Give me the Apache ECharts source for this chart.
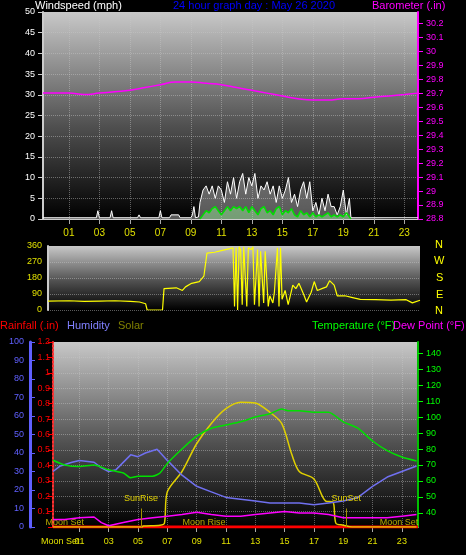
<!DOCTYPE html>
<html>
<head>
<meta charset="utf-8">
<script src="https://cdn.jsdelivr.net/npm/echarts@6/dist/echarts.min.js"></script>
<style>
  html, body { margin: 0; padding: 0; background: #000; }
  #chart { width: 466px; height: 555px; }
</style>
</head>
<body>
<div id="chart"></div>
<script>
// hour ticks shown under the top and bottom panels
const hourTicks = [1, 3, 5, 7, 9, 11, 13, 15, 17, 19, 21, 23];
const tempTicks = [40, 50, 60, 70, 80, 90, 100, 110, 120, 130, 140];

// [hour, value]
const windGust = [
  [-0.7, 0.3], [2.8, 0.3], [2.9, 2], [3.0, 0.3], [3.7, 0.3], [3.8, 2], [3.9, 0.3], [5.5, 0.3], [5.6, 1], [5.7, 0.3],
  [6.9, 0.3], [7.0, 2], [7.1, 0.3], [7.6, 0.3], [7.7, 1], [8.2, 1], [8.3, 0.3], [9.0, 0.3], [9.1, 1], [9.2, 3], [9.3, 0.3],
  [9.5, 0.5], [9.6, 4], [9.8, 7], [10.0, 8], [10.2, 6], [10.4, 8], [10.6, 5], [10.8, 8], [11.0, 7], [11.2, 4],
  [11.4, 9], [11.6, 6], [11.8, 10], [12.0, 5], [12.2, 9], [12.4, 11], [12.6, 6], [12.8, 10], [13.0, 8], [13.2, 11],
  [13.4, 5], [13.6, 8], [13.8, 7], [14.0, 9], [14.2, 6], [14.4, 8], [14.6, 4], [14.8, 8], [15.0, 5], [15.2, 7],
  [15.4, 10], [15.6, 4], [15.8, 6], [16.0, 3], [16.2, 7], [16.4, 9], [16.6, 5], [16.8, 9], [17.0, 2], [17.2, 4],
  [17.4, 1], [17.6, 5], [17.8, 2], [18.0, 6], [18.2, 3], [18.4, 3], [18.6, 1], [18.8, 3], [19.0, 7], [19.2, 1],
  [19.4, 5], [19.5, 0.3], [23.9, 0.3]
];
const windAvg = [
  [9.6, 0], [9.8, 1], [10.0, 2], [10.2, 1.5], [10.4, 2.5], [10.6, 3], [10.8, 2], [11.0, 1], [11.2, 2], [11.4, 3],
  [11.6, 2], [11.8, 3], [12.0, 2.5], [12.2, 3], [12.4, 2], [12.6, 3], [12.8, 1.5], [13.0, 3], [13.2, 2], [13.4, 1],
  [13.6, 2.5], [13.8, 3], [14.0, 1.5], [14.2, 2], [14.4, 1], [14.6, 2.5], [14.8, 3], [15.0, 1], [15.2, 2], [15.4, 1.5],
  [15.6, 2.5], [15.8, 1], [16.0, 0.5], [16.2, 2], [16.4, 1], [16.6, 1.5], [16.8, 0.5], [17.0, 1.5], [17.2, 0.5],
  [17.4, 1], [17.6, 0.5], [17.8, 1], [18.0, 1.5], [18.2, 0.5], [18.4, 1], [18.6, 0.5], [18.8, 1], [19.0, 0.5],
  [19.2, 1.5], [19.4, 0.5], [19.5, 0]
];
const barometer = [
  [-0.7, 29.70], [1, 29.70], [2, 29.69], [3, 29.70], [4, 29.71], [5, 29.72], [6, 29.74], [7, 29.76], [8, 29.78],
  [9, 29.78], [10, 29.77], [11, 29.76], [12, 29.74], [13, 29.72], [14, 29.70], [15, 29.68], [16, 29.66],
  [17, 29.65], [18, 29.65], [19, 29.66], [20, 29.66], [21, 29.67], [22, 29.68], [23, 29.69], [23.9, 29.70]
];
const windDir = [
  [-0.37, 50], [1, 52], [2, 48], [3, 50], [4, 52], [5, 48], [5.6, 45], [6.0, 35], [6.1, 0], [7.1, 0], [7.2, 120],
  [8, 125], [8.4, 110], [8.6, 130], [9, 150], [9.5, 160], [9.8, 190], [10.0, 320], [10.5, 325], [11, 335],
  [11.5, 345], [11.7, 350], [11.8, 20], [11.9, 350], [12.0, 0], [12.1, 355], [12.2, 340], [12.3, 30], [12.4, 355],
  [12.6, 20], [12.7, 350], [12.9, 340], [13.0, 355], [13.1, 30], [13.3, 340], [13.4, 20], [13.5, 330],
  [13.7, 40], [13.8, 330], [14.0, 20], [14.1, 80], [14.3, 40], [14.4, 100], [14.6, 350], [14.7, 20], [14.8, 350],
  [14.9, 60], [15.1, 110], [15.3, 30], [15.6, 140], [15.8, 120], [16.0, 150], [16.3, 90], [16.5, 45], [16.8, 100],
  [17.0, 160], [17.2, 110], [17.5, 120], [17.8, 130], [18.0, 165], [18.3, 140], [18.5, 80], [19, 80],
  [19.5, 70], [20, 60], [21, 58], [22, 55], [23, 58], [23.4, 40], [23.9, 55]
];
const temperature = [
  [-0.8, 73], [0, 70], [1, 69], [2, 70], [3, 67], [4, 65], [4.5, 62], [5, 63], [6, 63], [6.5, 65], [7, 71], [8, 80],
  [9, 88], [10, 93], [11, 95], [12, 97], [13, 100], [14, 102], [14.8, 105], [15.2, 104], [16, 104], [17, 103],
  [18, 103], [19, 97], [20, 93], [21, 85], [22, 79], [23, 75], [24, 72.5]
];
const dewPoint = [
  [-0.8, 36], [0, 36], [1, 37], [2, 37.5], [2.5, 34], [3, 32], [4, 34], [5, 36], [6, 37], [7, 38], [8, 39],
  [9, 40.5], [10, 39], [11, 38], [12, 38], [13, 39], [14, 40], [15, 41], [16, 40], [17, 40], [18, 39],
  [19, 37], [20, 37], [21, 37], [22, 37], [23, 38], [24, 39]
];
const humidity = [
  [-0.8, 30], [-0.3, 33], [0.5, 35], [1, 36], [2, 35], [2.5, 32], [3, 30], [3.5, 31], [4.5, 39], [5, 38],
  [5.5, 40], [6.3, 42], [7, 36], [8, 28], [9, 22], [10, 19], [11, 16], [12, 15], [13, 14], [14, 13], [15, 13],
  [16, 13], [17, 12], [18, 13], [19, 14], [20, 16], [21, 22], [22, 27], [23, 30], [24, 33]
];
const solar = [
  [-0.8, 0], [5.3, 0], [5.35, 5], [6.5, 10], [6.8, 20], [7, 190], [8, 300], [9, 450], [10, 560], [11, 640],
  [12, 675], [13, 670], [14, 620], [14.8, 560], [15.5, 390], [16, 300], [17, 260], [17.8, 140], [18.3, 135],
  [18.5, 20], [19, 10], [19.6, 0], [24, 0]
];
const rainfall = [[-0.8, 0], [24.1, 0]];
const sunRise = 5.2, sunSet = 19.2, moonRise = 9.5;

const font = 'Liberation Sans';
const bg = {
  type: 'linear', x: 0, y: 0, x2: 0, y2: 1,
  colorStops: [{ offset: 0, color: '#c8c8c8' }, { offset: 0.55, color: '#505050' }, { offset: 1, color: '#000000' }]
};
const dotted = { show: true, lineStyle: { color: 'rgba(200,200,200,0.45)', type: 'dotted' } };
const xTop = (gi) => ({
  type: 'value', gridIndex: gi, min: -0.7, max: 23.9,
  axisLine: { onZero: false, lineStyle: { color: '#ccc' } },
  axisTick: { customValues: hourTicks, lineStyle: { color: '#aaa' } },
  axisLabel: { customValues: hourTicks, color: '#e0e000', fontFamily: font, fontSize: 10, margin: 9,
    formatter: v => String(v).padStart(2, '0') },
  splitLine: dotted
});
const title = (text, left, top, fill) => ({ type: 'text', left, top, style: { text, fill, font: '11px ' + font } });

const chart = echarts.init(document.getElementById('chart'));
chart.setOption({
  backgroundColor: '#000',
  animation: false,
  textStyle: { fontFamily: font },
  graphic: [
    title('Windspeed (mph)', 35, 0, '#fff'),
    title('24 hour graph day : May 26 2020', 173, 0, '#0000ff'),
    title('Barometer (.in)', 372, 0, '#ff00ff'),
    title('Rainfall (.in)', 0, 320, '#ff0000'),
    title('Humidity', 67, 320, '#8080ff'),
    title('Solar', 118, 320, '#808000'),
    title('Temperature (°F)', 312, 320, '#00ff00'),
    title('Dew Point (°F)', 393, 320, '#ff00ff'),
    title('N', 435, 239, '#ffff00'),
    title('W', 434, 255, '#ffff00'),
    title('S', 436, 272, '#ffff00'),
    title('E', 436, 289, '#ffff00'),
    title('N', 435, 305, '#ffff00'),
    { type: 'text', left: 41, top: 537, style: { text: 'Moon Set', fill: '#e0e000', font: '9px ' + font } }
  ],
  grid: [
    { left: 43, right: 48, top: 12, height: 207, show: true, borderWidth: 0, backgroundColor: bg },
    { left: 48, right: 46, top: 246, height: 64, show: true, borderWidth: 0, backgroundColor: bg },
    { left: 53, right: 48, top: 342, height: 185, show: true, borderWidth: 0, backgroundColor: bg }
  ],
  xAxis: [
    xTop(0),
    { type: 'value', gridIndex: 1, min: -0.37, max: 23.9, axisLine: { show: false }, axisTick: { show: false },
      axisLabel: { show: false }, splitLine: { show: false } },
    Object.assign(xTop(2), { min: -0.8, max: 24.1, axisLabel: Object.assign(xTop(2).axisLabel, { fontSize: 9, margin: 10 }) })
  ],
  yAxis: [
    { type: 'value', gridIndex: 0, position: 'left', min: 0, max: 50, interval: 5,
      axisLine: { show: true, onZero: false, lineStyle: { color: '#ccc', width: 2 } }, axisTick: { show: true },
      axisLabel: { color: '#fff', fontSize: 9, fontFamily: font }, splitLine: dotted },
    { type: 'value', gridIndex: 0, position: 'right', min: 28.8, max: 30.28, interval: 0.1,
      axisLine: { show: true, onZero: false, lineStyle: { color: '#ff00ff', width: 2 } }, axisTick: { show: true },
      axisLabel: { color: '#ff00ff', fontSize: 9, fontFamily: font, showMaxLabel: false,
        formatter: v => String(+v.toFixed(1)) }, splitLine: { show: false } },
    { type: 'value', gridIndex: 1, position: 'left', min: 0, max: 360, interval: 90,
      axisLine: { show: true, onZero: false, lineStyle: { color: '#ccc', width: 2 } }, axisTick: { show: false },
      axisLabel: { color: '#e0e000', fontSize: 9, fontFamily: font, margin: 6 }, splitLine: dotted },
    { type: 'value', gridIndex: 2, position: 'left', min: 0, max: 100, interval: 10, offset: 23,
      axisLine: { show: true, onZero: false, lineStyle: { color: '#6060ff', width: 3 } },
      axisTick: { show: true, inside: true, lineStyle: { color: '#6060ff' } },
      axisLabel: { color: '#6060ff', fontSize: 9, fontFamily: font, margin: 6 }, splitLine: { show: false } },
    { type: 'value', gridIndex: 2, position: 'left', offset: 0, min: 0, max: 1.2, interval: 0.1,
      axisLine: { show: true, onZero: false, lineStyle: { color: '#ff3030', type: 'dotted', width: 2 } },
      axisTick: { show: true, lineStyle: { color: '#ff0000' } },
      axisLabel: { color: '#ff0000', fontSize: 9, fontFamily: font, margin: 3,
        formatter: v => v === 0 ? '' : String(+v.toFixed(1)) }, splitLine: dotted },
    { type: 'value', gridIndex: 2, position: 'right', min: 31.25, max: 146.9,
      axisLine: { show: true, onZero: false, lineStyle: { color: '#00c000', width: 2 } },
      axisTick: { show: true, customValues: tempTicks, lineStyle: { color: '#00ff00' } },
      axisLabel: { customValues: tempTicks, color: '#00ff00', fontSize: 9, fontFamily: font }, splitLine: { show: false } },
    { type: 'value', gridIndex: 2, position: 'right', offset: 0, min: 0, max: 1000, show: false }
  ],
  series: [
    { type: 'line', name: 'Gust', xAxisIndex: 0, yAxisIndex: 0, data: windGust, symbol: 'none',
      lineStyle: { color: '#ffffff', width: 1 }, areaStyle: { color: 'rgba(230,230,230,0.55)' } },
    { type: 'line', name: 'Wind', xAxisIndex: 0, yAxisIndex: 0, data: windAvg, symbol: 'none',
      lineStyle: { color: '#00e000', width: 1.5 }, areaStyle: { color: 'rgba(160,255,160,0.6)' } },
    { type: 'line', name: 'Barometer', xAxisIndex: 0, yAxisIndex: 1, data: barometer, symbol: 'none', smooth: true,
      lineStyle: { color: '#ff00ff', width: 1.5 } },
    { type: 'line', name: 'Direction', xAxisIndex: 1, yAxisIndex: 2, data: windDir, symbol: 'none',
      lineStyle: { color: '#ffff00', width: 1.2 } },
    { type: 'line', name: 'Rainfall', xAxisIndex: 2, yAxisIndex: 4, data: rainfall, symbol: 'none',
      lineStyle: { color: '#ff0000', width: 3 } },
    { type: 'line', name: 'Solar', xAxisIndex: 2, yAxisIndex: 6, data: solar, symbol: 'none', smooth: 0.3,
      lineStyle: { color: '#e0d000', width: 1.5 },
      markLine: { symbol: 'none', silent: true, lineStyle: { color: '#a09000', type: 'solid', width: 1 },
        label: { show: true, position: 'end', color: '#e0d000', fontSize: 9, fontFamily: font, formatter: p => p.name },
        data: [
          [{ name: 'SunRise', coord: [sunRise, 0] }, { coord: [sunRise, 100] }],
          [{ name: 'SunSet', coord: [sunSet, 0] }, { coord: [sunSet, 100] }]
        ] } },
    { type: 'line', name: 'Humidity', xAxisIndex: 2, yAxisIndex: 3, data: humidity, symbol: 'none',
      lineStyle: { color: '#7070f0', width: 1.5 } },
    { type: 'line', name: 'Temperature', xAxisIndex: 2, yAxisIndex: 5, data: temperature, symbol: 'none', smooth: 0.2,
      lineStyle: { color: '#00e000', width: 1.5 } },
    { type: 'line', name: 'Dew Point', xAxisIndex: 2, yAxisIndex: 5, data: dewPoint, symbol: 'none',
      lineStyle: { color: '#ff00ff', width: 1.5 } },
    { type: 'scatter', name: 'Moon', xAxisIndex: 2, yAxisIndex: 3, symbolSize: 0,
      data: [[0.0, 0, 'Moon Set'], [moonRise, 0, 'Moon Rise'], [22.8, 0, 'Moon Set']],
      label: { show: true, position: 'top', distance: 0, color: '#e0d000', fontSize: 9, fontFamily: font,
        formatter: p => p.value[2] } }
  ]
});
</script>
</body>
</html>
